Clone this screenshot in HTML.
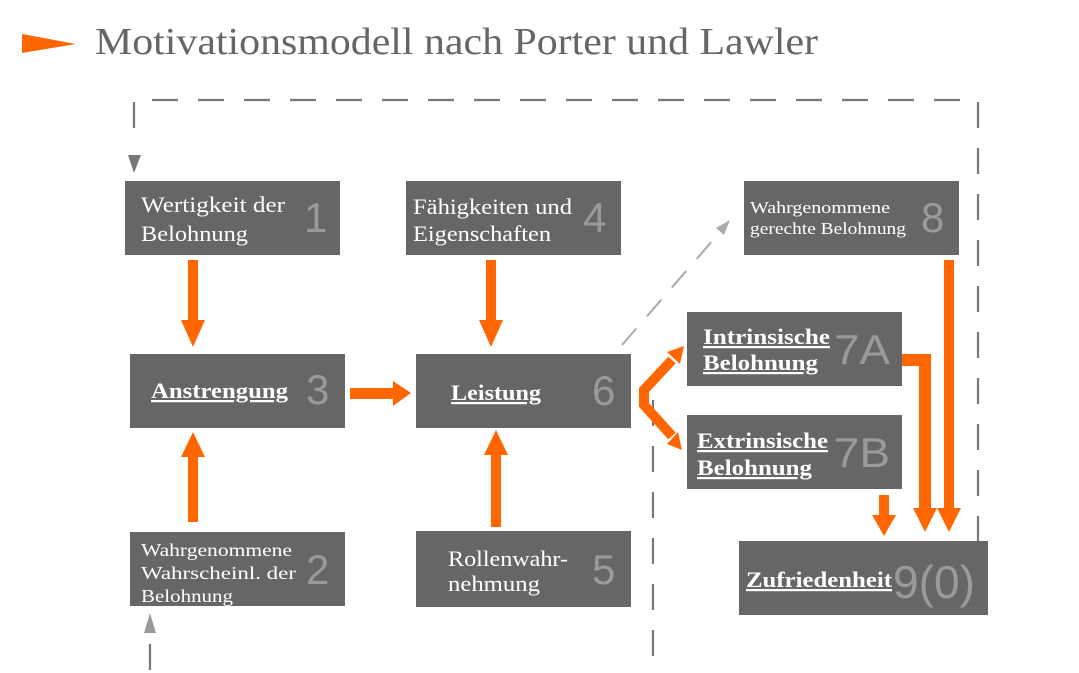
<!DOCTYPE html>
<html><head><meta charset="utf-8"><style>
html,body{margin:0;padding:0;background:#fff;}
svg{display:block;}
.t{font-family:"Liberation Serif",serif;fill:#fff;}
.n{font-family:"Liberation Sans",sans-serif;fill:#9a9a9a;}
</style></head><body>
<svg width="1079" height="673" viewBox="0 0 1079 673" xmlns="http://www.w3.org/2000/svg">
<polygon points="22,34 76,44 22,53" fill="#f60"/>
<text x="95" y="54" font-family="Liberation Serif, serif" font-size="38" fill="#666" textLength="723" lengthAdjust="spacingAndGlyphs">Motivationsmodell nach Porter und Lawler</text>
<g stroke="#777" stroke-width="2.2" fill="none" stroke-dasharray="26,20">
<path d="M134,128 L134,100 L978,100 L978,560"/>
<path d="M653,400 L653,665"/>
<path d="M150,670 L150,630"/>
</g>
<path d="M622,345 L720,232" stroke="#aaa" stroke-width="2" stroke-dasharray="22,16" fill="none"/>
<polygon points="730,220 716,228 724,235" fill="#aaa"/>
<polygon points="128,155 141,155 134,173" fill="#777"/>
<polygon points="144,633 156,633 150,613" fill="#999"/>
<g fill="#666">
<rect x="125" y="181" width="215" height="74"/>
<rect x="406" y="181" width="215" height="74"/>
<rect x="744" y="181" width="215" height="74"/>
<rect x="130" y="354" width="215" height="74"/>
<rect x="416" y="354" width="215" height="74"/>
<rect x="687" y="312" width="215" height="74"/>
<rect x="687" y="415" width="215" height="74"/>
<rect x="130" y="532" width="215" height="74"/>
<rect x="416" y="531" width="215" height="76"/>
<rect x="739" y="541" width="249" height="74"/>
</g>
<g fill="#f60">
<rect x="188" y="260" width="10" height="62"/><polygon points="181,320 205,320 193,347"/>
<rect x="486" y="260" width="10" height="62"/><polygon points="479,320 503,320 491,347"/>
<rect x="188" y="455" width="10" height="67"/><polygon points="181,457 205,457 193,432"/>
<rect x="491" y="453" width="10" height="74"/><polygon points="484,455 508,455 496,430"/>
<rect x="350" y="388" width="45" height="11"/><polygon points="393,381 393,406 411,393"/>
<rect x="944" y="260" width="10" height="250"/><polygon points="937,508 961,508 949,532"/>
<path d="M902,354 L931,354 L931,510 L919,510 L919,366 L902,366 Z"/><polygon points="913,508 937,508 925,532"/>
<rect x="879" y="495" width="10" height="22"/><polygon points="872,515 896,515 884,536"/>
</g>
<g stroke="#f60" stroke-width="10" fill="none">
<path d="M672,360 L644,390 L644,405 L672,436"/>
</g>
<polygon points="667,352 684,346 680,364" fill="#f60"/>
<polygon points="667,444 682,450 678,432" fill="#f60"/>
<g class="t" font-size="22">
<text x="141" y="212" textLength="144" lengthAdjust="spacingAndGlyphs">Wertigkeit der</text><text x="141" y="241" textLength="107" lengthAdjust="spacingAndGlyphs">Belohnung</text>
<text x="413" y="214" textLength="159" lengthAdjust="spacingAndGlyphs">Fähigkeiten und</text><text x="413" y="241" textLength="138" lengthAdjust="spacingAndGlyphs">Eigenschaften</text>
<text x="750" y="213" font-size="17" textLength="140" lengthAdjust="spacingAndGlyphs">Wahrgenommene</text><text x="750" y="234" font-size="17" textLength="156" lengthAdjust="spacingAndGlyphs">gerechte Belohnung</text>
<text x="151" y="398" font-weight="bold" text-decoration="underline" textLength="137" lengthAdjust="spacingAndGlyphs">Anstrengung</text>
<text x="451" y="400" font-weight="bold" text-decoration="underline" textLength="90" lengthAdjust="spacingAndGlyphs">Leistung</text>
<text x="703" y="344" font-weight="bold" text-decoration="underline" textLength="127" lengthAdjust="spacingAndGlyphs">Intrinsische</text>
<text x="703" y="370" font-weight="bold" text-decoration="underline" textLength="115" lengthAdjust="spacingAndGlyphs">Belohnung</text>
<text x="697" y="448" font-weight="bold" text-decoration="underline" textLength="131" lengthAdjust="spacingAndGlyphs">Extrinsische</text>
<text x="697" y="475" font-weight="bold" text-decoration="underline" textLength="115" lengthAdjust="spacingAndGlyphs">Belohnung</text>
<text x="746" y="587" font-weight="bold" text-decoration="underline" textLength="146" lengthAdjust="spacingAndGlyphs">Zufriedenheit</text>
<text x="141" y="556" font-size="18" textLength="151" lengthAdjust="spacingAndGlyphs">Wahrgenommene</text>
<text x="141" y="579" font-size="18" textLength="155" lengthAdjust="spacingAndGlyphs">Wahrscheinl. der</text>
<text x="141" y="602" font-size="18" textLength="92" lengthAdjust="spacingAndGlyphs">Belohnung</text>
<text x="448" y="566" textLength="120" lengthAdjust="spacingAndGlyphs">Rollenwahr-</text><text x="448" y="591" textLength="92" lengthAdjust="spacingAndGlyphs">nehmung</text>
</g>
<g class="n" font-size="42">
<text x="304" y="232">1</text><text x="583" y="232">4</text><text x="921" y="232">8</text>
<text x="306" y="404">3</text><text x="592" y="405">6</text>
<text x="834" y="364" textLength="56" lengthAdjust="spacingAndGlyphs">7A</text><text x="834" y="467" textLength="56" lengthAdjust="spacingAndGlyphs">7B</text>
<text x="306" y="584">2</text><text x="592" y="584">5</text>
<text x="893" y="598" font-size="46" textLength="82" lengthAdjust="spacingAndGlyphs">9(0)</text>
</g>
</svg>
</body></html>
